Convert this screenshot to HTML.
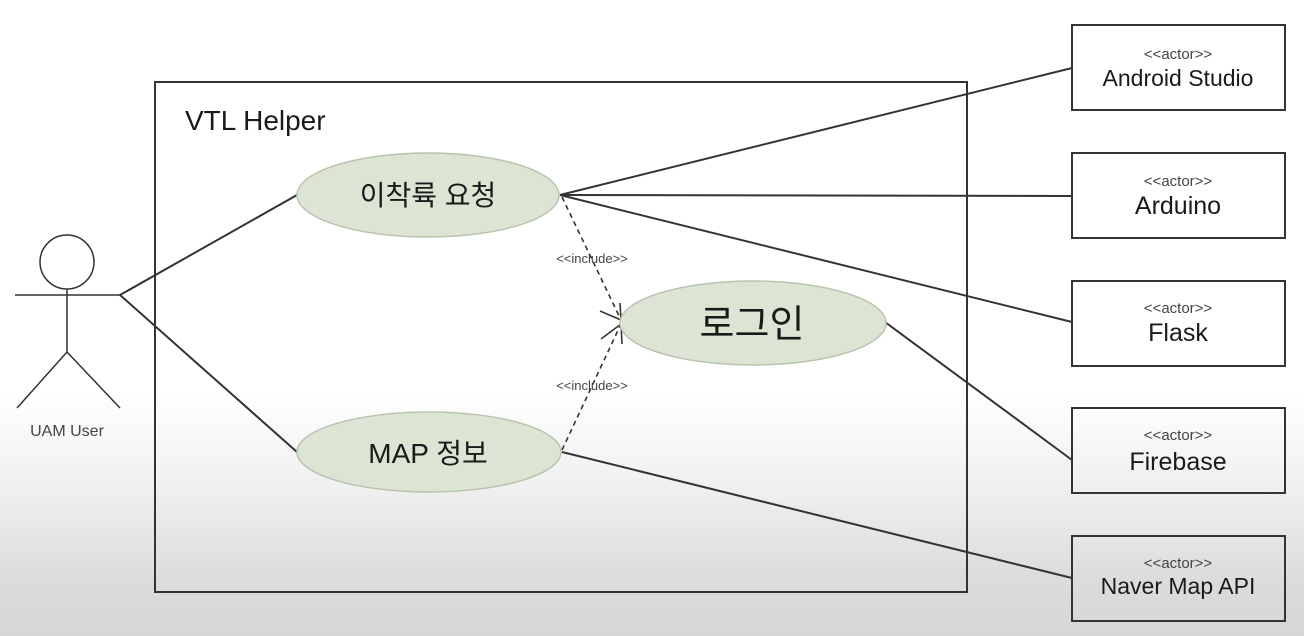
<!DOCTYPE html>
<html><head><meta charset="utf-8"><style>
html,body{margin:0;padding:0;}
body{width:1304px;height:636px;overflow:hidden;background:linear-gradient(to bottom,#fff 0,#fff 390px,#f1f1f1 480px,#dcdcdc 580px,#d6d6d6 636px);}
svg{display:block;}
text{font-family:"Liberation Sans","Noto Sans CJK KR",sans-serif;fill:#1a1a1a;}
</style></head><body>
<svg width="1304" height="636" viewBox="0 0 1304 636">
<g stroke="#333" stroke-width="2" fill="none">
<rect x="155" y="82" width="812" height="510"/>
<circle cx="67" cy="262" r="27" stroke-width="1.5"/>
<line x1="67" y1="289" x2="67" y2="352" stroke-width="1.5"/>
<line x1="15" y1="295" x2="120" y2="295" stroke-width="1.5"/>
<line x1="67" y1="352" x2="17" y2="408" stroke-width="1.5"/>
<line x1="67" y1="352" x2="120" y2="408" stroke-width="1.5"/>
<line x1="120" y1="295" x2="297" y2="195"/>
<line x1="120" y1="295" x2="297" y2="452"/>
<line x1="560" y1="195" x2="1072" y2="68"/>
<line x1="560" y1="195" x2="1072" y2="196"/>
<line x1="560" y1="195" x2="1072" y2="322"/>
<line x1="885" y1="322" x2="1072" y2="460"/>
<line x1="562" y1="452" x2="1072" y2="578"/>
<line x1="562" y1="197" x2="621" y2="320" stroke-dasharray="5,4" stroke-width="1.6"/>
<line x1="562" y1="450" x2="621" y2="324" stroke-dasharray="5,4" stroke-width="1.6"/>
<polyline points="600,311 621,320 620,303" stroke-width="1.6"/>
<polyline points="601,339 621,324 622,344" stroke-width="1.6"/>
<rect x="1072" y="25" width="213" height="85"/>
<rect x="1072" y="153" width="213" height="85"/>
<rect x="1072" y="281" width="213" height="85"/>
<rect x="1072" y="408" width="213" height="85"/>
<rect x="1072" y="536" width="213" height="85"/>
</g>
<g fill="#dce4d4" stroke="#b9c4ad" stroke-width="1.5">
<ellipse cx="428" cy="195" rx="131" ry="42"/>
<ellipse cx="429" cy="452" rx="132" ry="40"/>
<ellipse cx="753" cy="323" rx="133" ry="42"/>
</g>
<text x="185" y="130" font-size="28">VTL Helper</text>
<text x="428" y="205" font-size="28" text-anchor="middle">이착륙 요청</text>
<text x="428" y="463" font-size="28" text-anchor="middle">MAP 정보</text>
<text x="752" y="337" font-size="38" text-anchor="middle">로그인</text>
<text x="67" y="436" font-size="16" text-anchor="middle" style="fill:#444">UAM User</text>
<text x="592" y="263" font-size="13" text-anchor="middle" style="fill:#444">&lt;&lt;include&gt;&gt;</text>
<text x="592" y="390" font-size="13" text-anchor="middle" style="fill:#444">&lt;&lt;include&gt;&gt;</text>
<g text-anchor="middle">
<text x="1178" y="59" font-size="15" style="fill:#444">&lt;&lt;actor&gt;&gt;</text>
<text x="1178" y="86" font-size="23">Android Studio</text>
<text x="1178" y="186" font-size="15" style="fill:#444">&lt;&lt;actor&gt;&gt;</text>
<text x="1178" y="214" font-size="25">Arduino</text>
<text x="1178" y="313" font-size="15" style="fill:#444">&lt;&lt;actor&gt;&gt;</text>
<text x="1178" y="341" font-size="25">Flask</text>
<text x="1178" y="440" font-size="15" style="fill:#444">&lt;&lt;actor&gt;&gt;</text>
<text x="1178" y="470" font-size="25">Firebase</text>
<text x="1178" y="568" font-size="15" style="fill:#444">&lt;&lt;actor&gt;&gt;</text>
<text x="1178" y="594" font-size="23">Naver Map API</text>
</g>
</svg>
</body></html>
